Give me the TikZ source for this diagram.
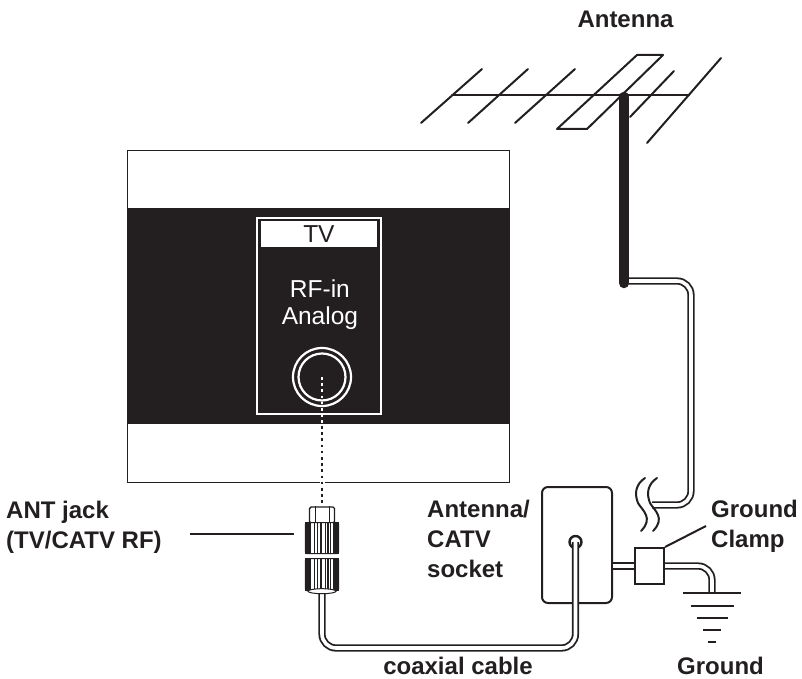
\documentclass[tikz,border=0pt]{standalone}
\usepackage{fontspec}
\setmainfont{Liberation Sans}
\usepackage{tikz}
\usetikzlibrary{positioning}

\definecolor{ink}{HTML}{231F20}
\tikzset{
  label/.style={font=\fontsize{24}{30}\selectfont\bfseries,text=ink,inner sep=0pt,align=left},
  wire/.style={draw=ink,line width=2pt,line cap=round},
  cable/.style={draw=ink,line width=1.8pt,double=white,double distance=3.6pt,rounded corners=14pt},
  nut/.style={draw=ink,fill=white,line width=1.2pt,rounded corners=1.5pt,minimum width=33pt,minimum height=31pt,inner sep=0pt},
  plate/.style={draw=ink,fill=white,inner sep=0pt},
  ring/.style={circle,draw=white,line width=2.2pt,inner sep=0pt}
}

\begin{document}
\begin{tikzpicture}[x=1pt,y=-1pt]
  \useasboundingbox (0,0) rectangle (802,679);

  % TV
  \node[plate,line width=1.2pt,anchor=north west,minimum width=382pt,minimum height=332pt] (tv) at (127,150) {};
  \node[fill=ink,anchor=north,minimum width=382pt,minimum height=216pt,inner sep=0pt] (band) at (318,208) {};
  \node[draw=white,line width=1.8pt,anchor=north west,minimum width=124pt,minimum height=196pt,inner sep=0pt] (panel) at (256,217) {};
  \node[fill=white,anchor=north,minimum width=116pt,minimum height=26pt,inner sep=0pt,font=\fontsize{24.5}{26}\selectfont,text=ink] (tvlabel) at (panel.north|-0,221) {TV};
  \node[below=32pt of tvlabel,xshift=1pt,text=white,align=center,inner sep=0pt,font=\fontsize{24.5}{27}\selectfont] (rfin) {RF-in\\Analog};
  \node[ring,minimum size=58pt] (jack) at (322,377) {};
  \node[ring,minimum size=47pt] at (jack) {};

  % Antenne
  \coordinate (boomL) at (452,95);
  \coordinate (boomR) at (689,95);
  \draw[wire] (421,123) -- (482,69);
  \draw[wire] (468,123) -- (528,69);
  \draw[wire] (515,123) -- (575,69);
  \draw[wire] (674,71) -- (630,117);
  \draw[wire] (721,58) -- (647,143);
  \draw[wire] (boomL) -- (boomR);
  \draw[wire,line join=round] (557,129) -- (637,55) -- (663,55) -- (587,129) -- cycle;

  % Cavo antenna
  \coordinate (mastTop) at (624,97);
  \coordinate (mastEnd) at (624,283);
  \draw[cable] ([yshift=2pt]mastEnd) -- (691,281) -- (691,505) -- (652,505);
  \draw[draw=ink,line width=10.5pt,line cap=round] (mastTop) -- (mastEnd);
  \foreach \dx in {0,12}
    \draw[wire,xshift=\dx pt] (645,478) .. controls (636,484) and (634,493) .. (638,503) .. controls (642,510) and (654,518) .. (641,531);

  % Presa e massa
  \node[plate,line width=2pt,rounded corners=6pt,anchor=north west,minimum width=70pt,minimum height=116pt] (socket) at (541,486) {};
  \node[plate,line width=2pt,anchor=north west,minimum width=29pt,minimum height=36pt] (clamp) at (634,547) {};
  \node[circle,draw=ink,fill=white,line width=2.4pt,minimum size=12pt,inner sep=0pt] (hole) at (575.5,542) {};
  \draw[cable] (socket.east|-0,566) -- (clamp.west|-0,566);
  \draw[cable] (clamp.east|-0,566) -- (712,566) -- (712,593);
  \coordinate (gnd) at (712,593);
  \foreach \y/\w in {0/29,13/21.5,25/15.5,37/9,49/4}
    \draw[wire,line cap=butt] ([xshift=-\w pt,yshift=-\y pt]gnd) -- ([xshift=\w pt,yshift=-\y pt]gnd);
  \coordinate (clampTip) at (706,526);
  \draw[wire,line cap=butt] (clamp.north east) -- (clampTip);

  % Spina
  \coordinate (plugTail) at (322,588);
  \draw[cable] (plugTail) -- (322,648) -- (575.5,648) -- (hole.center);
  \node[plate,line width=1.4pt,rounded corners=1.5pt,minimum width=25pt,minimum height=16pt] (plugcap) at (322,515) {};
  \draw[ink,line width=1pt] ([xshift=-7pt]plugcap.north) -- ([xshift=-7pt]plugcap.south);
  \draw[ink,line width=1pt] ([xshift=7pt]plugcap.north) -- ([xshift=7pt]plugcap.south);
  \node[nut,anchor=north] (nutA) at (322,522) {};
  \node[nut,anchor=north,minimum height=32pt] (nutB) at (322,558) {};
  \foreach \n in {nutA,nutB}{
    \fill[ink] (\n.north west) rectangle ([xshift=6pt]\n.south west);
    \fill[ink] (\n.north east) rectangle ([xshift=-6pt]\n.south east);
    \foreach \d/\t in {-8/0.9,-4.5/0.7,-1/1.8,3/0.7,6/1.2,8.5/0.7}
      \draw[ink,line width=\t pt] ([xshift=\d pt]\n.north) -- ([xshift=\d pt]\n.south);
  }
  \draw[ink,fill=white,line width=1pt] (nutB.south) ellipse (14pt and 2.5pt);
  \coordinate (leaderL) at (190,534);
  \coordinate (leaderR) at (294,534);
  \draw[ink,line width=2.6pt] (leaderL) -- (leaderR);

  % Linea punteggiata
  \draw[white,line width=5pt] (322,476) -- (322,488);
  \draw[white,line width=2.6pt,dash pattern=on 2.5pt off 3.7pt] (jack.center) -- (322,424);
  \draw[ink,line width=2.6pt,dash pattern=on 2.5pt off 3.7pt] (322,426) -- (plugcap.north);

  % Testi
  \node[label,anchor=base] (antlabel) at (625.5,28) {Antenna};
  \node[label,anchor=base west] (jacklabel) at (6,548) {ANT jack\\(TV/CATV RF)};
  \node[label,anchor=base west] (socketlabel) at (427,577) {Antenna/\\CATV\\socket};
  \node[label,anchor=base west] (clamplabel) at (711,547) {Ground\\Clamp};
  \node[label,anchor=base] (coaxlabel) at (458,674) {coaxial cable};
  \node[label,anchor=base] (gndlabel) at (720.5,674) {Ground};
\end{tikzpicture}
\end{document}
